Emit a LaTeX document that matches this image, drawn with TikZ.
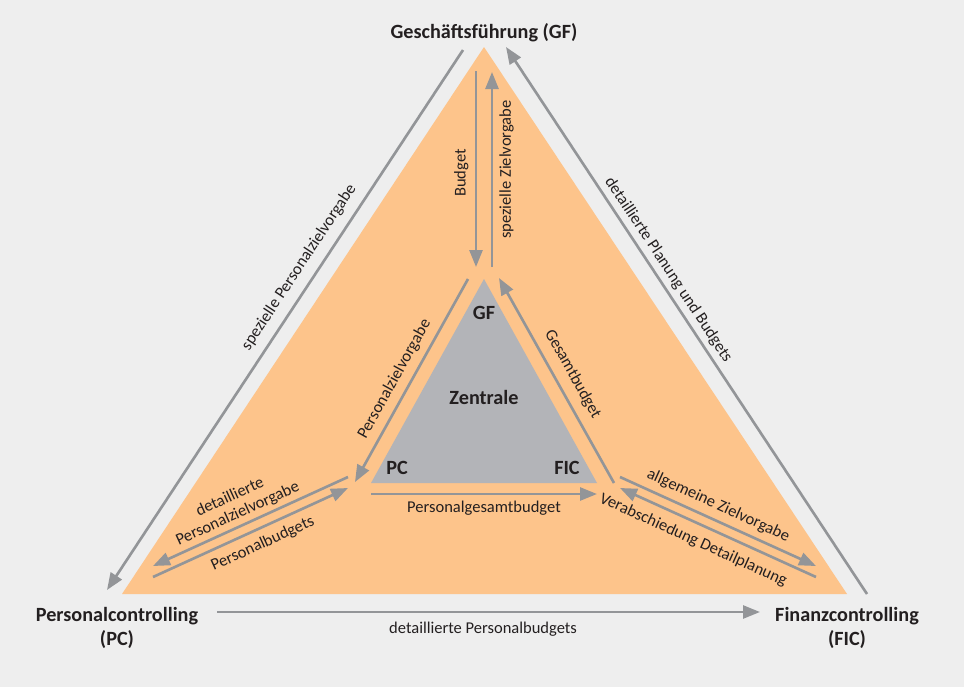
\documentclass[tikz,border=0pt]{standalone}
\usepackage{fontspec}
\setmainfont{Carlito}
\usetikzlibrary{arrows.meta}
\definecolor{bgpanel}{RGB}{238,238,238}
\definecolor{outerfill}{RGB}{253,196,139}
\definecolor{innerfill}{RGB}{179,180,184}
\definecolor{flowgray}{RGB}{147,149,152}
\definecolor{textdark}{RGB}{35,31,32}

\begin{document}
\begin{tikzpicture}[
  x=0.02cm, y=-0.02cm,
  unit/.style={font=\fontsize{11.5}{13.5}\selectfont\bfseries, text=textdark, align=center},
  core/.style={font=\fontsize{11.5}{13.5}\selectfont\bfseries, text=textdark},
  flow/.style={-{Triangle[length=3.4mm,width=2.6mm]}, line width=1.5pt, flowgray},
  flowlab/.style={font=\fontsize{9.4}{10.5}\selectfont, text=textdark, inner sep=2pt},
]

% background
\fill[bgpanel] (0,0) rectangle (964,687);

% triangles
\fill[outerfill] (484,47) -- (847,594) -- (122,594) -- cycle;
\fill[innerfill] (484,279) -- (597,483) -- (371,483) -- cycle;

% units
\node[unit] (gf)  at (484,33)  {Geschäftsführung (GF)};
\node[unit] (pc)  at (117,628) {Personalcontrolling\\(PC)};
\node[unit] (fic) at (847,628) {Finanzcontrolling\\(FIC)};

% inner triangle labels
\node[core] (zgf)      at (484,313) {GF};
\node[core] (zentrale) at (484,397) {Zentrale};
\node[core] (zpc)      at (397,468) {PC};
\node[core] (zfic)     at (567,468) {FIC};

% end points of the outer connectors
\coordinate (gfL)  at (463,50);
\coordinate (gfR)  at (506,47);
\coordinate (pcT)  at (107,590);
\coordinate (pcR)  at (217,612);
\coordinate (ficT) at (867,594);
\coordinate (ficL) at (760,612);

% end points near the inner triangle
\coordinate (topA) at (476,71);
\coordinate (topB) at (476,267);
\coordinate (topC) at (492,267);
\coordinate (topD) at (492,72);
\coordinate (inL1) at (468,279);
\coordinate (inL2) at (355,482);
\coordinate (inR1) at (614,483);
\coordinate (inR2) at (499,278);
\coordinate (inB1) at (371,494);
\coordinate (inB2) at (597,494);
\coordinate (lfA)  at (348,477);
\coordinate (lfB)  at (153,566);
\coordinate (lfC)  at (153,577);
\coordinate (lfD)  at (348,488);
\coordinate (rtA)  at (620,477);
\coordinate (rtB)  at (816,566);
\coordinate (rtC)  at (816,577);
\coordinate (rtD)  at (620,488);

% outer flows
\draw[flow] (gfL) -- node[flowlab, sloped, above=3pt, pos=0.42] {spezielle Personalzielvorgabe} (pcT);
\draw[flow] (ficT) -- node[flowlab, sloped, above=0.5pt, pos=0.58] {detaillierte Planung und Budgets} (gfR);
\draw[flow] (pcR) -- node[flowlab, below=3pt, pos=0.49] {detaillierte Personalbudgets} (ficL);

% GF <-> Zentrale
\draw[flow] (topA) -- node[flowlab, rotate=90, anchor=south, yshift=1.5pt, pos=0.52] {Budget} (topB);
\draw[flow] (topC) -- node[flowlab, sloped, below=1.5pt, pos=0.5] {spezielle Zielvorgabe} (topD);

% inside the Zentrale
\draw[flow] (inL1) -- node[flowlab, sloped, above=2pt, pos=0.53] {Personalzielvorgabe} (inL2);
\draw[flow] (inR1) -- node[flowlab, sloped, above=3pt, pos=0.49] {Gesamtbudget} (inR2);
\draw[flow] (inB1) -- node[flowlab, below=1pt, pos=0.5] {Personalgesamtbudget} (inB2);

% PC <-> Zentrale
\draw[flow] (lfA) -- node[flowlab, sloped, above, align=center, pos=0.54] {detaillierte\\Personalzielvorgabe} (lfB);
\draw[flow] (lfC) -- node[flowlab, sloped, below=2pt, pos=0.53] {Personalbudgets} (lfD);

% FIC <-> Zentrale
\draw[flow] (rtA) -- node[flowlab, sloped, above=1.5pt, pos=0.47] {allgemeine Zielvorgabe} (rtB);
\draw[flow] (rtC) -- node[flowlab, sloped, below=3pt, pos=0.59] {Verabschiedung Detailplanung} (rtD);

\end{tikzpicture}
\end{document}
